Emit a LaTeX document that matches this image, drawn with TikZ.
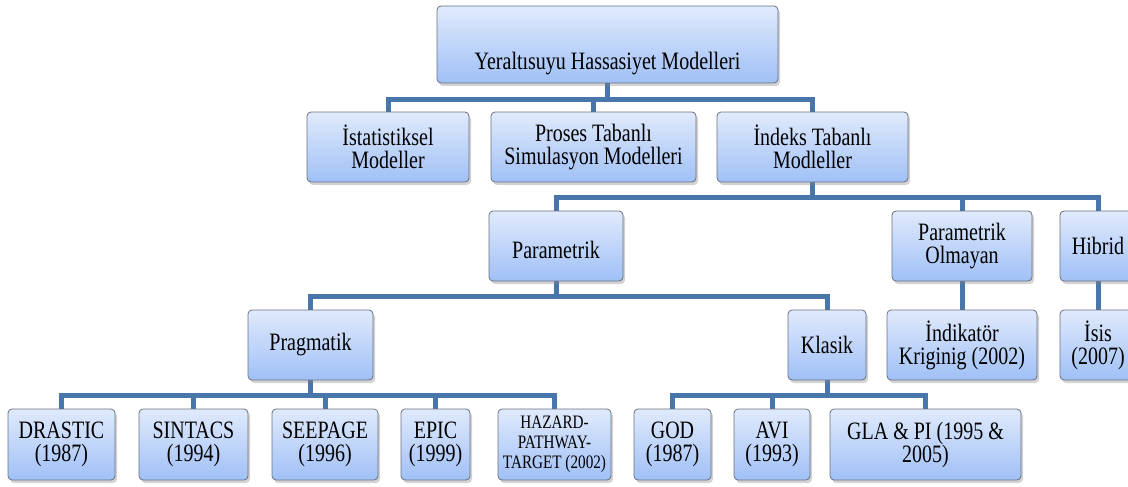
\documentclass[tikz,border=0pt]{standalone}
\usepackage{fontspec}
\setmainfont[FakeStretch=0.8]{Liberation Serif}
\usetikzlibrary{shadows,backgrounds}
\definecolor{boxtop}{RGB}{224,234,252}
\definecolor{boxbot}{RGB}{160,192,246}
\definecolor{boxline}{RGB}{105,112,128}
\definecolor{linkblue}{RGB}{72,118,170}

\begin{document}
\begin{tikzpicture}[x=1pt,y=-1pt,
   box/.style={draw=boxline,line width=0.8pt,rounded corners=4pt,
      top color=boxtop,bottom color=boxbot,minimum height=70pt,
      align=center,inner sep=2pt,font=\fontsize{25}{23}\selectfont,
      drop shadow={shadow xshift=2pt,shadow yshift=-3pt,opacity=0.35}},
   leaf/.style={box,minimum height=71pt},
   link/.style={draw=linkblue,line width=5pt}]
   \useasboundingbox (0,0) rectangle (1128,487);

   % levels
   \node[box,minimum width=341pt,minimum height=77pt,text height=56pt,text depth=5pt] (yas) at (607.5,44.5) {Yeraltısuyu Hassasiyet Modelleri};

   \node[box,minimum width=162pt] (ist) at (388,147) {İstatistiksel\\Modeller};
   \node[box,minimum width=205pt] (pro) at (593.5,147) {Proses Tabanlı\\Simulasyon Modelleri};
   \node[box,minimum width=191pt] (ind) at (812.5,147) {İndeks Tabanlı\\Modleller};

   \node[box,minimum width=134pt,text height=26pt] (par) at (556,246) {Parametrik};
   \node[box,minimum width=140pt] (pol) at (962,246) {Parametrik\\Olmayan};
   \node[box,minimum width=76pt] (hib) at (1098,246) {Hibrid};

   \node[box,minimum width=125pt] (pra) at (310.5,345) {Pragmatik};
   \node[box,minimum width=78pt] (kla) at (827,345) {Klasik};
   \node[box,minimum width=150pt] (ikr) at (962,345) {İndikatör\\Kriginig (2002)};
   \node[box,minimum width=76pt] (isi) at (1098,345) {İsis\\(2007)};

   \node[leaf,minimum width=107pt] (dra) at (61.5,444.5) {DRASTIC\\(1987)};
   \node[leaf,minimum width=109pt] (sin) at (193.5,444.5) {SINTACS\\(1994)};
   \node[leaf,minimum width=106pt] (see) at (325,444.5) {SEEPAGE\\(1996)};
   \node[leaf,minimum width=69pt] (epi) at (435.5,444.5) {EPIC\\(1999)};
   \node[leaf,minimum width=113pt,font=\fontsize{19}{20}\selectfont] (haz) at (554.5,444.5) {HAZARD-\\PATHWAY-\\TARGET (2002)};
   \node[leaf,minimum width=77pt] (god) at (672.5,444.5) {GOD\\(1987)};
   \node[leaf,minimum width=76pt] (avi) at (772,444.5) {AVI\\(1993)};
   \node[leaf,minimum width=191pt] (gla) at (925.5,444.5) {GLA \& PI (1995 \&\\2005)};

   \coordinate (bus1) at (0,100);
   \coordinate (bus2) at (0,197);
   \coordinate (bus3) at (0,296);
   \coordinate (bus4) at (0,395);

   \begin{scope}[on background layer]
      \foreach \c in {ist,pro,ind}
         \draw[link] (yas.south) -- (yas.south |- bus1) -| (\c.north);
      \foreach \c in {par,pol,hib}
         \draw[link] (ind.south) -- (ind.south |- bus2) -| (\c.north);
      \foreach \c in {pra,kla}
         \draw[link] (par.south) -- (par.south |- bus3) -| (\c.north);
      \foreach \c in {dra,sin,see,epi,haz}
         \draw[link] (pra.south) -- (pra.south |- bus4) -| (\c.north);
      \foreach \c in {god,avi,gla}
         \draw[link] (kla.south) -- (kla.south |- bus4) -| (\c.north);
      \draw[link] (pol) -- (ikr);
      \draw[link] (hib) -- (isi);
   \end{scope}
\end{tikzpicture}
\end{document}
